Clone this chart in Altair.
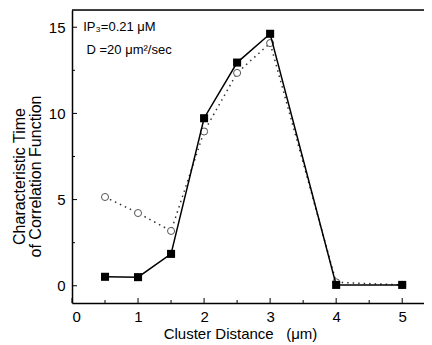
import altair as alt
import pandas as pd

distance = [0.5, 1.0, 1.5, 2.0, 2.5, 3.0, 4.0, 5.0]
filled_squares = [0.52, 0.5, 1.85, 9.72, 12.95, 14.62, 0.05, 0.05]
open_circles = [5.15, 4.22, 3.18, 8.95, 12.35, 14.08, 0.2, 0.05]

x_major = [0, 1, 2, 3, 4, 5]
x_minor = [0.5, 1.5, 2.5, 3.5, 4.5]
y_major = [0, 5, 10, 15]
y_minor = [2.5, 7.5, 12.5]

note_lines = ["IP\u2083=0.21 \u03bcM", "D =20 \u03bcm\u00b2/sec"]
note_x = [0.17, 0.22]
note_y = [15.0, 13.7]

W, H = 352, 293
FONT = "Liberation Sans"

xs = alt.Scale(domain=[0, 5.33], nice=False, zero=False)
ys = alt.Scale(domain=[-1, 16], nice=False, zero=False)

df = pd.DataFrame({"d": distance, "sq": filled_squares, "ci": open_circles})

xaxis = alt.Axis(values=x_major, format="d", ticks=False, labelFontSize=15, labelFont=FONT,
                 labelColor="black", labelPadding=6, domainColor="black", domainWidth=1.5,
                 grid=False, title="Cluster Distance\u00a0\u00a0\u00a0(\u03bcm)", titleFont=FONT,
                 titleFontSize=15, titleFontWeight="normal", titleColor="black",
                 titlePadding=2, titleX=168)
yaxis = alt.Axis(values=y_major, format="d", ticks=False, labelFontSize=15, labelFont=FONT,
                 labelColor="black", labelPadding=7, domainColor="black", domainWidth=1.5,
                 grid=False, title=["Characteristic Time", "of Correlation Function"],
                 titleFont=FONT, titleFontSize=16, titleFontWeight="normal",
                 titleColor="black", titlePadding=5, titleLineHeight=16, titleY=166)

base = alt.Chart(df)

circ_line = base.mark_line(color="#333", strokeWidth=1.5, strokeDash=[1.5, 4]).encode(
    x=alt.X("d:Q", scale=xs, axis=xaxis), y=alt.Y("ci:Q", scale=ys, axis=yaxis))
circ_pts = base.mark_point(shape="circle", fill="white", fillOpacity=1, stroke="#555",
                           strokeWidth=1, size=50, opacity=1).encode(
    x=alt.X("d:Q", scale=xs), y=alt.Y("ci:Q", scale=ys))
sq_line = base.mark_line(color="black", strokeWidth=1.5).encode(
    x=alt.X("d:Q", scale=xs), y=alt.Y("sq:Q", scale=ys))
sq_pts = base.mark_point(shape="square", filled=True, color="black", opacity=1, size=65).encode(
    x=alt.X("d:Q", scale=xs), y=alt.Y("sq:Q", scale=ys))

xt_major = alt.Chart(pd.DataFrame({"v": x_major})).mark_rule(color="black", strokeWidth=1).encode(
    x=alt.X("v:Q", scale=xs), y=alt.value(H), y2=alt.value(H - 5))
xt_minor = alt.Chart(pd.DataFrame({"v": x_minor})).mark_rule(color="black", strokeWidth=1).encode(
    x=alt.X("v:Q", scale=xs), y=alt.value(H), y2=alt.value(H - 3))
yt_major = alt.Chart(pd.DataFrame({"v": y_major})).mark_rule(color="black", strokeWidth=1).encode(
    y=alt.Y("v:Q", scale=ys), x=alt.value(0), x2=alt.value(5))
yt_minor = alt.Chart(pd.DataFrame({"v": y_minor})).mark_rule(color="black", strokeWidth=1).encode(
    y=alt.Y("v:Q", scale=ys), x=alt.value(0), x2=alt.value(3))
top_line = alt.Chart(pd.DataFrame({"a": [0]})).mark_rule(color="black", strokeWidth=1.5).encode(
    x=alt.value(0), x2=alt.value(W), y=alt.value(0))

notes = alt.Chart(pd.DataFrame({"t": note_lines, "x": note_x, "y": note_y})).mark_text(
    align="left", baseline="middle", font=FONT, fontSize=13, color="black").encode(
    x=alt.X("x:Q", scale=xs), y=alt.Y("y:Q", scale=ys), text="t:N")

chart = alt.layer(circ_line, circ_pts, sq_line, sq_pts, xt_major, xt_minor,
                  yt_major, yt_minor, top_line, notes).properties(
    width=W, height=H, autosize=alt.AutoSizeParams(type="none"),
    padding={"left": 64, "top": 2, "right": 0, "bottom": 40},
).configure_view(stroke=None).configure(background="white")

chart.save("out.html", embed_options={"renderer": "svg", "actions": False})
